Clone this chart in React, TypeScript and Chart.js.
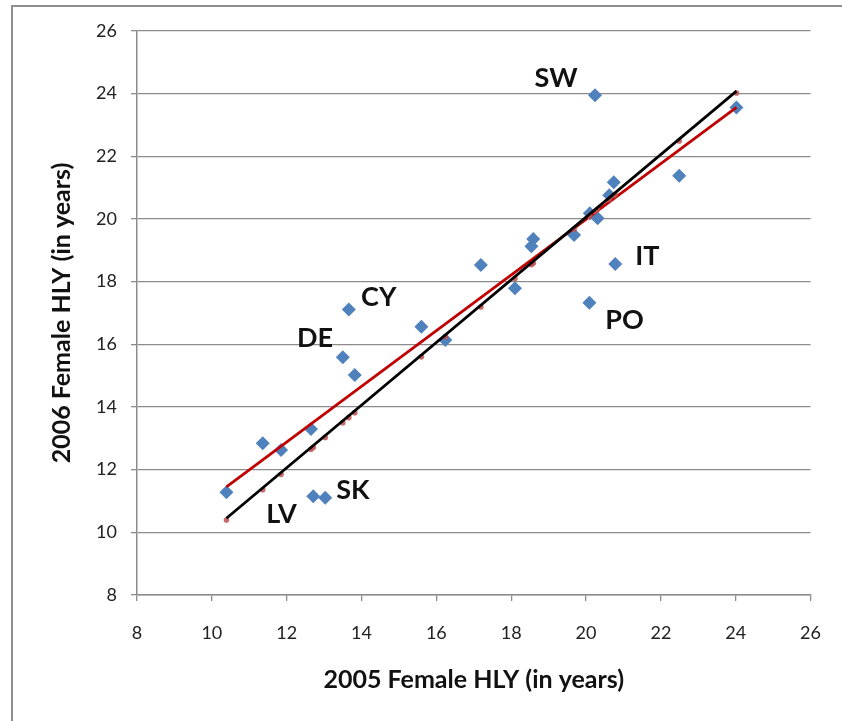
import React, { useEffect, useRef } from "react";
import { Chart, registerables } from "chart.js";

Chart.register(...registerables);

// 2005 vs 2006 female healthy life years by country
const countryX = [10.39, 11.36, 11.85, 12.65, 12.71, 13.03, 13.5, 13.66, 13.82, 15.6, 16.24, 17.19, 18.1, 18.54, 18.59, 19.68, 20.1, 20.31, 20.62, 20.74, 20.78, 20.09, 20.24, 22.49, 24.02];
const countryY = [11.28, 12.84, 12.63, 13.3, 11.15, 11.1, 15.59, 17.11, 15.02, 16.56, 16.14, 18.53, 17.79, 19.13, 19.36, 19.49, 20.18, 20.02, 20.76, 21.17, 18.56, 17.33, 23.95, 21.38, 23.56];

// points on the line of equality (y = x) at each country's 2005 value
const equalityDotX = [10.39, 11.36, 11.85, 12.65, 12.71, 13.03, 13.5, 13.66, 13.82, 15.6, 16.24, 17.19, 18.1, 18.54, 18.59, 19.68, 20.1, 20.31, 20.62, 20.74, 20.78, 20.09, 20.24, 22.49, 24.02];
const equalityDotY = [10.39, 11.36, 11.85, 12.65, 12.71, 13.03, 13.5, 13.66, 13.82, 15.6, 16.24, 17.19, 18.1, 18.54, 18.59, 19.68, 20.1, 20.31, 20.62, 20.74, 20.78, 20.09, 20.24, 22.49, 24.02];

const equalityLineX = [10.39, 24.02];
const equalityLineY = [10.45, 24.08];

// fitted regression line
const fitLineX = [10.39, 24.02];
const fitLineY = [11.45, 23.56];

// country labels (text and data-space anchor)
const labelText = ["SW", "IT", "PO", "CY", "DE", "LV", "SK"];
const labelX = [19.2, 21.64, 21.03, 14.46, 12.76, 11.86, 13.77];
const labelY = [24.49, 18.81, 16.77, 17.5, 16.2, 10.58, 11.35];

const axisMin = 8;
const axisMax = 26;
const axisStep = 2;

const FONT = "Lato, 'Open Sans', 'DejaVu Sans', sans-serif";

const labelPlugin = {
  id: "countryLabels",
  afterDatasetsDraw(chart: any) {
    const { ctx, scales } = chart;
    ctx.save();
    ctx.font = `bold 27px ${FONT}`;
    ctx.fillStyle = "#111";
    ctx.textAlign = "center";
    ctx.textBaseline = "middle";
    labelText.forEach((t, i) => {
      ctx.fillText(t, scales.x.getPixelForValue(labelX[i]), scales.y.getPixelForValue(labelY[i]));
    });
    ctx.restore();
  },
};

export default function App() {
  const ref = useRef<HTMLCanvasElement>(null);

  useEffect(() => {
    if (!ref.current) return;
    const pts = (xs: number[], ys: number[]) => xs.map((x, i) => ({ x, y: ys[i] }));
    const chart = new Chart(ref.current, {
      type: "scatter",
      data: {
        datasets: [
          {
            label: "Line of equality",
            data: pts(equalityLineX, equalityLineY),
            showLine: true,
            borderColor: "#000000",
            borderWidth: 2.8,
            pointRadius: 0,
            order: 0,
          },
          {
            label: "Equality points",
            data: pts(equalityDotX, equalityDotY),
            showLine: false,
            pointRadius: 2.8,
            backgroundColor: "rgba(192,80,77,0.85)",
            borderWidth: 0,
            order: 1,
          },
          {
            label: "Fit",
            data: pts(fitLineX, fitLineY),
            showLine: true,
            borderColor: "#C00000",
            borderWidth: 2.8,
            pointRadius: 0,
            order: 2,
          },
          {
            label: "Countries",
            data: pts(countryX, countryY),
            pointStyle: "rectRot",
            pointRadius: 7,
            backgroundColor: "#4F81BD",
            borderColor: "#4F81BD",
            borderWidth: 0,
            order: 3,
          },
        ],
      },
      options: {
        responsive: false,
        animation: false,
        layout: { padding: { left: 0, right: 28, top: 31, bottom: 0 } },
        plugins: { legend: { display: false }, tooltip: { enabled: false } },
        scales: {
          x: {
            type: "linear",
            min: axisMin,
            max: axisMax,
            ticks: { stepSize: axisStep, color: "#222", font: { family: FONT, size: 18 }, padding: 21 },
            grid: { drawOnChartArea: false, drawTicks: true, tickLength: 6, color: "#8c8c8c", lineWidth: 1.3 },
            border: { color: "#8c8c8c", width: 1.5 },
            title: {
              display: true,
              text: "2005 Female HLY (in years)",
              color: "#111",
              font: { family: FONT, size: 25, weight: "bold" },
              padding: { top: 0, bottom: 26 },
            },
            afterFit: (s: any) => {
              s.height = 126;
            },
          },
          y: {
            type: "linear",
            min: axisMin,
            max: axisMax,
            ticks: { stepSize: axisStep, color: "#222", font: { family: FONT, size: 18 }, padding: 14 },
            grid: { drawOnChartArea: true, drawTicks: true, tickLength: 6, color: "#8c8c8c", lineWidth: 1.3 },
            border: { color: "#8c8c8c", width: 1.5 },
            title: {
              display: true,
              text: "2006 Female HLY (in years)",
              color: "#111",
              font: { family: FONT, size: 25, weight: "bold" },
              padding: { top: 47, bottom: 0 },
            },
            afterFit: (s: any) => {
              s.width = 137;
            },
          },
        },
      },
      plugins: [labelPlugin],
    });
    return () => chart.destroy();
  }, []);

  return (
    <div style={{ position: "absolute", left: 0, top: 0, width: 842, height: 721, overflow: "hidden", background: "#fff" }}>
      <div
        style={{
          position: "absolute",
          left: 11,
          top: 5,
          width: 900,
          height: 800,
          border: "2px solid #8f8f8f",
          boxSizing: "border-box",
        }}
      />
      <canvas ref={ref} width={842} height={721} style={{ position: "absolute", left: 0, top: 0 }} />
    </div>
  );
}
